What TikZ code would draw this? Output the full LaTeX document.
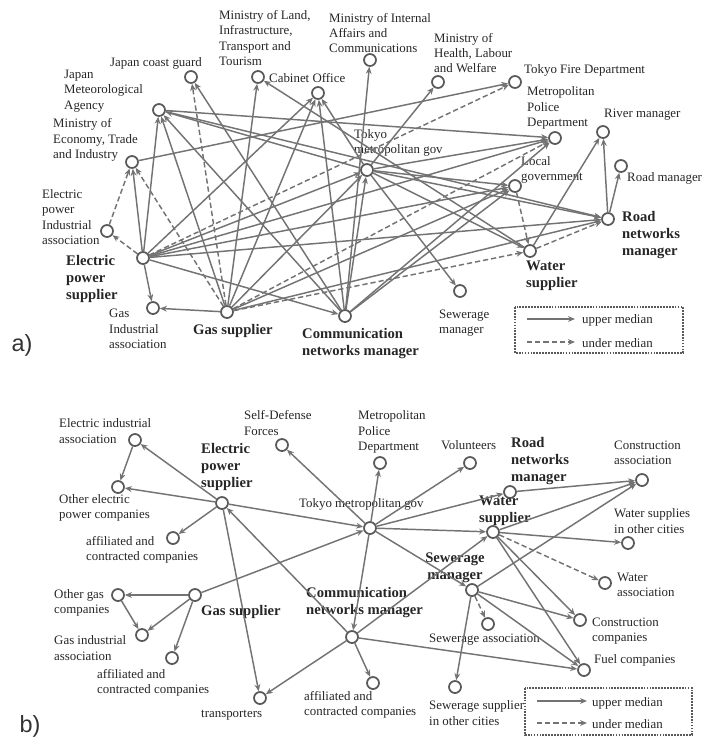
\documentclass[tikz,border=0pt]{standalone}
\usepackage{fontspec}
\setmainfont{Liberation Serif}
\newfontfamily\panelfont{Liberation Sans}
\usepackage{tikz}
\usetikzlibrary{arrows.meta}

\begin{document}
\begin{tikzpicture}[x=0.03cm,y=-0.03cm,
  org/.style={circle,draw=black!65,line width=1.5pt,fill=white,inner sep=0pt,minimum size=3.6mm},
  txt/.style={font=\fontsize{11}{13}\selectfont,text=black!85,align=left,inner sep=0pt,anchor=west},
  btxt/.style={txt,font=\fontsize{12.5}{14.5}\selectfont\bfseries},
  upr/.style={draw=black!55,line width=1.25pt,-{Stealth[length=6pt,width=5pt]}},
  und/.style={upr,dash pattern=on 4.5pt off 2.5pt},
  keybox/.style={draw=black!65,line width=1.5pt,densely dotted},
  panel/.style={font=\panelfont\fontsize{20}{20}\selectfont,text=black!80}]
\useasboundingbox (0,0) rectangle (707,750);
%
%% a) upper part
\node (jcg) at (191,77) [org] {};
\node (mlit) at (258,77) [org] {};
\node (cab) at (318,93) [org] {};
\node (jma) at (159,110) [org] {};
\node (meti) at (132,162) [org] {};
\node (epia) at (107,231) [org] {};
\node (eps) at (143,258) [org] {};
\node (gia) at (153,308) [org] {};
\node (gas) at (227,312) [org] {};
\node (cnm) at (345,316) [org] {};
\node (sew) at (460,291) [org] {};
\node (wat) at (530,251) [org] {};
\node (rnm) at (608,219) [org] {};
\node (lg) at (515,186) [org] {};
\node (mpd) at (555,138) [org] {};
\node (riv) at (603,132) [org] {};
\node (rdm) at (621,166) [org] {};
\node (tfd) at (515,82) [org] {};
\node (mhlw) at (438,82) [org] {};
\node (miac) at (370,60) [org] {};
\node (tmg) at (367,170) [org] {};
%
\node (tjcg) at (110,63) [txt] {Japan coast guard};
\node (tmlit) at (219,38) [txt] {Ministry of Land,\\Infrastructure,\\Transport and\\Tourism};
\node (tcab) at (269,78) [txt] {Cabinet Office};
\node (tjma) at (64,91) [txt] {Japan\\Meteorological\\Agency};
\node (tmeti) at (53,140) [txt] {Ministry of\\Economy, Trade\\and Industry};
\node (tepia) at (42,217) [txt] {Electric\\power\\Industrial\\association};
\node (teps) at (66,279) [btxt] {Electric\\power\\supplier};
\node (tgia) at (109,329) [txt] {Gas\\Industrial\\association};
\node (tgas) at (193,331) [btxt] {Gas supplier};
\node (tcnm) at (302,344) [btxt] {Communication\\networks manager};
\node (tsew) at (439,323) [txt] {Sewerage\\manager};
\node (twat) at (526,276) [btxt] {Water\\supplier};
\node (trnm) at (622,235) [btxt] {Road\\networks\\manager};
\node (tlg) at (521,170) [txt] {Local\\government};
\node (tmpd) at (527,108) [txt] {Metropolitan\\Police\\Department};
\node (triv) at (604,115) [txt] {River manager};
\node (trdm) at (627,178) [txt] {Road manager};
\node (ttfd) at (524,70) [txt] {Tokyo Fire Department};
\node (tmhlw) at (434,53) [txt] {Ministry of\\Health, Labour\\and Welfare};
\node (tmiac) at (329,33) [txt] {Ministry of Internal\\Affairs and\\Communications};
\node (ttmg) at (354,143) [txt] {Tokyo\\metropolitan gov};
%%
\draw (eps) edge[upr] (meti);
\draw (eps) edge[upr] (jma);
\draw (eps) edge[upr] (cab);
\draw (eps) edge[upr] (tmg);
\draw (eps) edge[upr] (lg);
\draw (eps) edge[upr] (mpd);
\draw (eps) edge[upr] (rnm);
\draw (eps) edge[upr] (cnm);
\draw (eps) edge[upr] (gia);
\draw (eps) edge[und] (tfd);
\draw (eps) edge[und] (epia);
%
\draw (gas) edge[upr] (gia);
\draw (gas) edge[upr] (mlit);
\draw (gas) edge[upr] (cab);
\draw (gas) edge[upr] (jma);
\draw (gas) edge[upr] (tmg);
\draw (gas) edge[upr] (lg);
\draw (gas) edge[upr] (rnm);
\draw (gas) edge[und] (jcg);
\draw (gas) edge[und] (meti);
\draw (gas) edge[und] (mpd);
\draw (gas) edge[und] (wat);
%
\draw (cnm) edge[upr] (jcg);
\draw (cnm) edge[upr] (jma);
\draw (cnm) edge[upr] (cab);
\draw (cnm) edge[upr] (miac);
\draw (cnm) edge[upr] (tmg);
\draw (cnm) edge[upr] (lg);
\draw (cnm) edge[upr] (mpd);
%
\draw (tmg) edge[upr] (jma);
\draw (tmg) edge[upr] (cab);
\draw (tmg) edge[upr] (mhlw);
\draw (tmg) edge[upr] (sew);
\draw (tmg) edge[upr] (wat);
\draw (tmg) edge[upr] (rnm);
\draw (tmg) edge[upr] (lg);
\draw (tmg) edge[upr] (mpd);
%
\draw (meti) edge[upr] (tfd);
\draw (epia) edge[und] (meti);
\draw (jma) edge[upr] (rnm);
\draw (jma) edge[upr] (mpd);
\draw (wat) edge[upr] (mlit);
\draw (wat) edge[upr] (riv);
\draw (wat) edge[und] (rnm);
\draw (lg) edge[und] (wat);
\draw (rnm) edge[upr] (riv);
\draw (rnm) edge[upr] (rdm);
%
\draw[keybox] (515,307) rectangle (683,353);
\coordinate (ka1) at (527,319);
\coordinate (ka2) at (575,319);
\coordinate (kb1) at (527,342);
\coordinate (kb2) at (575,342);
\draw (ka1) edge[upr] (ka2);
\draw (kb1) edge[und] (kb2);
\node (kau) at (582,320) [txt] {upper median};
\node (kad) at (582,343) [txt] {under median};
\node (pa) at (22,345) [panel] {a)};
%
%% b) lower part
\node (eia) at (135,440) [org] {};
\node (oepc) at (118,487) [org] {};
\node (beps) at (222,503) [org] {};
\node (afe) at (173,538) [org] {};
\node (sdf) at (282,445) [org] {};
\node (bmpd) at (380,463) [org] {};
\node (vol) at (470,463) [org] {};
\node (brnm) at (510,492) [org] {};
\node (ca) at (642,480) [org] {};
\node (btmg) at (370,528) [org] {};
\node (bwat) at (493,532) [org] {};
\node (wso) at (628,543) [org] {};
\node (wa) at (605,583) [org] {};
\node (bsew) at (472,590) [org] {};
\node (sa) at (488,624) [org] {};
\node (cc) at (580,620) [org] {};
\node (fc) at (584,670) [org] {};
\node (sso) at (455,687) [org] {};
\node (bcnm) at (352,637) [org] {};
\node (afc) at (373,683) [org] {};
\node (bgas) at (195,595) [org] {};
\node (ogc) at (118,595) [org] {};
\node (bgia) at (142,635) [org] {};
\node (afg) at (172,658) [org] {};
\node (trn) at (260,698) [org] {};
%
\node (teia) at (59,431) [txt] {Electric industrial\\association};
\node (toepc) at (59,508) [txt] {Other electric\\power companies};
\node (tbeps) at (201,467) [btxt] {Electric\\power\\supplier};
\node (tafe) at (86,550) [txt] {affiliated and\\contracted companies};
\node (tsdf) at (244,423) [txt] {Self-Defense\\Forces};
\node (tbmpd) at (358,432) [txt] {Metropolitan\\Police\\Department};
\node (tvol) at (441,445) [txt] {Volunteers};
\node (tbrnm) at (511,461) [btxt] {Road\\networks\\manager};
\node (tca) at (614,453) [txt] {Construction\\association};
\node (tbtmg) at (299,504) [txt] {Tokyo metropolitan gov};
\node (tbwat) at (479,511) [btxt] {Water\\supplier};
\node (twso) at (614,521) [txt] {Water supplies\\in other cities};
\node (twa) at (617,585) [txt] {Water\\association};
\node (tbsew) at (455,568) [btxt,anchor=center,align=center] {Sewerage\\manager};
\node (tsa) at (429,640) [txt] {Sewerage association};
\node (tcc) at (592,631) [txt] {Construction\\companies};
\node (tfc) at (594,660) [txt] {Fuel companies};
\node (tsso) at (429,713) [txt] {Sewerage supplier\\in other cities};
\node (tbcnm) at (306,603) [btxt] {Communication\\networks manager};
\node (tafc) at (304,705) [txt] {affiliated and\\contracted companies};
\node (tbgas) at (201,612) [btxt] {Gas supplier};
\node (togc) at (54,603) [txt] {Other gas\\companies};
\node (tbgia) at (54,648) [txt] {Gas industrial\\association};
\node (tafg) at (97,683) [txt] {affiliated and\\contracted companies};
\node (ttrn) at (201,715) [txt] {transporters};
%%
\draw (beps) edge[upr] (eia);
\draw (eia) edge[upr] (oepc);
\draw (beps) edge[upr] (oepc);
\draw (beps) edge[upr] (afe);
\draw (beps) edge[upr] (trn);
\draw (beps) edge[upr] (btmg);
\draw (bcnm) edge[upr] (beps);
%
\draw (btmg) edge[upr] (sdf);
\draw (btmg) edge[upr] (bmpd);
\draw (btmg) edge[upr] (vol);
\draw (btmg) edge[upr] (brnm);
\draw (btmg) edge[upr] (bwat);
\draw (btmg) edge[upr] (bsew);
\draw (btmg) edge[upr] (bcnm);
%
\draw (bgas) edge[upr] (btmg);
\draw (bgas) edge[upr] (ogc);
\draw (ogc) edge[upr] (bgia);
\draw (bgas) edge[upr] (bgia);
\draw (bgas) edge[upr] (afg);
%
\draw (bcnm) edge[upr] (trn);
\draw (bcnm) edge[upr] (afc);
\draw (bcnm) edge[upr] (fc);
\draw (bcnm) edge[upr] (bwat);
%
\draw (brnm) edge[upr] (ca);
\draw (bwat) edge[upr] (ca);
\draw (bwat) edge[upr] (wso);
\draw (bwat) edge[und] (wa);
\draw (bwat) edge[upr] (cc);
\draw (bwat) edge[upr] (fc);
%
\draw (bsew) edge[upr] (ca);
\draw (bsew) edge[upr] (cc);
\draw (bsew) edge[upr] (fc);
\draw (bsew) edge[und] (sa);
\draw (bsew) edge[upr] (sso);
%
\draw[keybox] (525,688) rectangle (692,735);
\coordinate (kc1) at (537,701);
\coordinate (kc2) at (587,701);
\coordinate (kd1) at (537,723);
\coordinate (kd2) at (587,723);
\draw (kc1) edge[upr] (kc2);
\draw (kd1) edge[und] (kd2);
\node (kbu) at (592,703) [txt] {upper median};
\node (kbd) at (592,724) [txt] {under median};
\node (pb) at (30,726) [panel] {b)};
\end{tikzpicture}
\end{document}
